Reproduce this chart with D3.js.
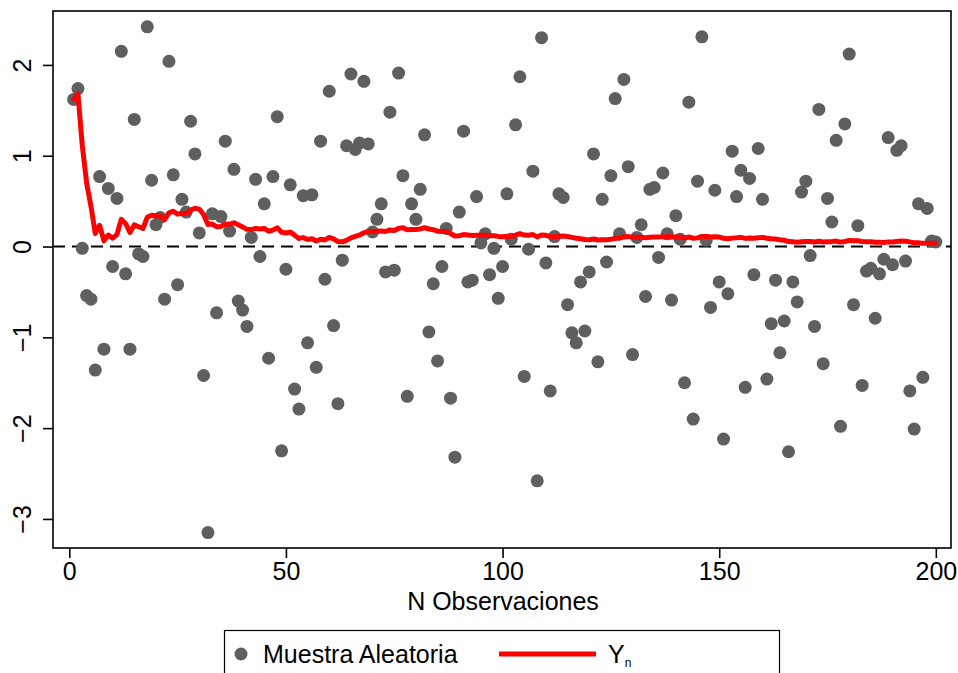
<!DOCTYPE html>
<html>
<head>
<meta charset="utf-8">
<script src="https://cdn.jsdelivr.net/npm/d3@7"></script>
<style>
  html, body { margin: 0; padding: 0; background: #ffffff; }
  svg { display: block; }
  text, tspan { font-family: "Liberation Sans", Arial, Helvetica, sans-serif; fill: #000; }
</style>
</head>
<body>
<svg id="chart" width="958" height="673"></svg>
<script>
// Random sample, observation by observation (n = 1..200)
const sample = [
  1.62, 1.74, -0.02, -0.54, -0.58, -1.36, 0.77, -1.13, 0.64, -0.22,
  0.53, 2.15, -0.30, -1.13, 1.40, -0.08, -0.11, 2.42, 0.73, 0.24,
  0.32, -0.58, 2.04, 0.79, -0.42, 0.52, 0.38, 1.38, 1.02, 0.15,
  -1.42, -3.15, 0.36, -0.73, 0.33, 1.16, 0.17, 0.85, -0.60, -0.70,
  -0.88, 0.10, 0.74, -0.11, 0.47, -1.23, 0.77, 1.43, -2.25, -0.25,
  0.68, -1.57, -1.79, 0.56, -1.06, 0.57, -1.33, 1.16, -0.36, 1.71,
  -0.87, -1.73, -0.15, 1.11, 1.90, 1.07, 1.14, 1.82, 1.13, 0.16,
  0.30, 0.47, -0.28, 1.48, -0.26, 1.91, 0.78, -1.65, 0.47, 0.30,
  0.63, 1.23, -0.94, -0.41, -1.26, -0.22, 0.20, -1.67, -2.32, 0.38,
  1.27, -0.39, -0.37, 0.55, 0.04, 0.14, -0.31, -0.02, -0.57, -0.22,
  0.58, 0.08, 1.34, 1.87, -1.43, -0.03, 0.83, -2.58, 2.30, -0.18,
  -1.59, 0.11, 0.58, 0.54, -0.64, -0.95, -1.06, -0.39, -0.93, -0.28,
  1.02, -1.27, 0.52, -0.17, 0.78, 1.63, 0.14, 1.84, 0.88, -1.19,
  0.10, 0.24, -0.55, 0.63, 0.65, -0.12, 0.81, 0.14, -0.59, 0.34,
  0.08, -1.50, 1.59, -1.90, 0.72, 2.31, 0.07, -0.67, 0.62, -0.39,
  -2.12, -0.52, 1.05, 0.55, 0.84, -1.55, 0.75, -0.31, 1.08, 0.52,
  -1.46, -0.85, -0.37, -1.17, -0.82, -2.26, -0.39, -0.61, 0.60, 0.72,
  -0.10, -0.88, 1.51, -1.29, 0.53, 0.27, 1.17, -1.98, 1.35, 2.12,
  -0.64, 0.23, -1.53, -0.27, -0.24, -0.79, -0.30, -0.14, 1.20, -0.20,
  1.06, 1.11, -0.16, -1.59, -2.01, 0.47, -1.44, 0.42, 0.06, 0.05
];

// Observation numbers
const obs = sample.map((_, i) => i + 1);

// Running mean Y_n of the first n observations
const runningMean = Array.from(d3.cumsum(sample), (s, i) => s / (i + 1));

const xTicks = [0, 50, 100, 150, 200];
const yTicks = [-3, -2, -1, 0, 1, 2];
const xTitle = "N Observaciones";
const legendLabels = ["Muestra Aleatoria", "Y", "n"];

const svg = d3.select("#chart");

// Plot region
const box = { left: 53, top: 11, right: 951, bottom: 548 };

const x = d3.scaleLinear()
  .domain([-3.76, 203.5])
  .range([box.left, box.right]);

const y = d3.scaleLinear()
  .domain([-3.32, 2.594])
  .range([box.bottom, box.top]);

const fontSize = 25;

// Reference line at zero
svg.append("line")
  .attr("x1", box.left).attr("x2", box.right)
  .attr("y1", y(0)).attr("y2", y(0))
  .attr("stroke", "#000").attr("stroke-width", 2)
  .attr("stroke-dasharray", "12,7");

// Sample points
svg.append("g")
  .selectAll("circle")
  .data(sample)
  .join("circle")
  .attr("cx", (d, i) => x(obs[i]))
  .attr("cy", d => y(d))
  .attr("r", 6.5)
  .attr("fill", "#5f5f5f");

// Running mean line
const line = d3.line()
  .x((d, i) => x(obs[i]))
  .y(d => y(d));

svg.append("path")
  .datum(runningMean)
  .attr("d", line)
  .attr("fill", "none")
  .attr("stroke", "#ff0000")
  .attr("stroke-width", 5)
  .attr("stroke-linejoin", "round")
  .attr("stroke-linecap", "round");

// Frame
svg.append("rect")
  .attr("x", box.left).attr("y", box.top)
  .attr("width", box.right - box.left)
  .attr("height", box.bottom - box.top)
  .attr("fill", "none")
  .attr("stroke", "#000")
  .attr("stroke-width", 1.6);

// X axis
const xAxis = svg.append("g")
  .attr("transform", `translate(0,${box.bottom})`)
  .call(d3.axisBottom(x).tickValues(xTicks).tickSize(10).tickPadding(4).tickFormat(d3.format("d")));
xAxis.select(".domain").remove();
xAxis.selectAll(".tick line").attr("stroke", "#000").attr("stroke-width", 1.6);
xAxis.selectAll(".tick text")
  .attr("font-size", fontSize)
  .style("font-family", "'Liberation Sans', Arial, sans-serif")
  .attr("fill", "#000");

// Y axis with rotated labels
const yAxis = svg.append("g")
  .attr("transform", `translate(${box.left},0)`)
  .call(d3.axisLeft(y).tickValues(yTicks).tickSize(10).tickFormat(d => d < 0 ? "\u2212" + Math.abs(d) : String(d)));
yAxis.select(".domain").remove();
yAxis.selectAll(".tick line").attr("stroke", "#000").attr("stroke-width", 1.6);
yAxis.selectAll(".tick text")
  .attr("font-size", fontSize)
  .style("font-family", "'Liberation Sans', Arial, sans-serif")
  .attr("fill", "#000")
  .attr("x", null).attr("dy", null)
  .attr("text-anchor", "middle")
  .attr("transform", "translate(-31,0) rotate(-90)")
  .attr("dy", "0.35em");

// X axis title
svg.append("text")
  .attr("x", (box.left + box.right) / 2 + 1)
  .attr("y", 610)
  .attr("text-anchor", "middle")
  .attr("font-size", fontSize)
  .text(xTitle);

// Legend
const legend = svg.append("g");
legend.append("rect")
  .attr("x", 224.5).attr("y", 630.5)
  .attr("width", 555).attr("height", 60)
  .attr("fill", "#fff")
  .attr("stroke", "#000")
  .attr("stroke-width", 1.2);
legend.append("circle")
  .attr("cx", 241).attr("cy", 654)
  .attr("r", 6.5)
  .attr("fill", "#5f5f5f");
legend.append("text")
  .attr("x", 263).attr("y", 663)
  .attr("font-size", fontSize)
  .text(legendLabels[0]);
legend.append("line")
  .attr("x1", 499).attr("x2", 596)
  .attr("y1", 654).attr("y2", 654)
  .attr("stroke", "#ff0000")
  .attr("stroke-width", 5);
const yn = legend.append("text")
  .attr("x", 608).attr("y", 663)
  .attr("font-size", fontSize)
  .attr("fill", "#000");
yn.append("tspan").attr("fill", "#000").text(legendLabels[1]);
yn.append("tspan")
  .attr("font-size", 12)
  .attr("dy", 4)
  .attr("fill", "#000")
  .text(legendLabels[2]);
</script>
</body>
</html>
